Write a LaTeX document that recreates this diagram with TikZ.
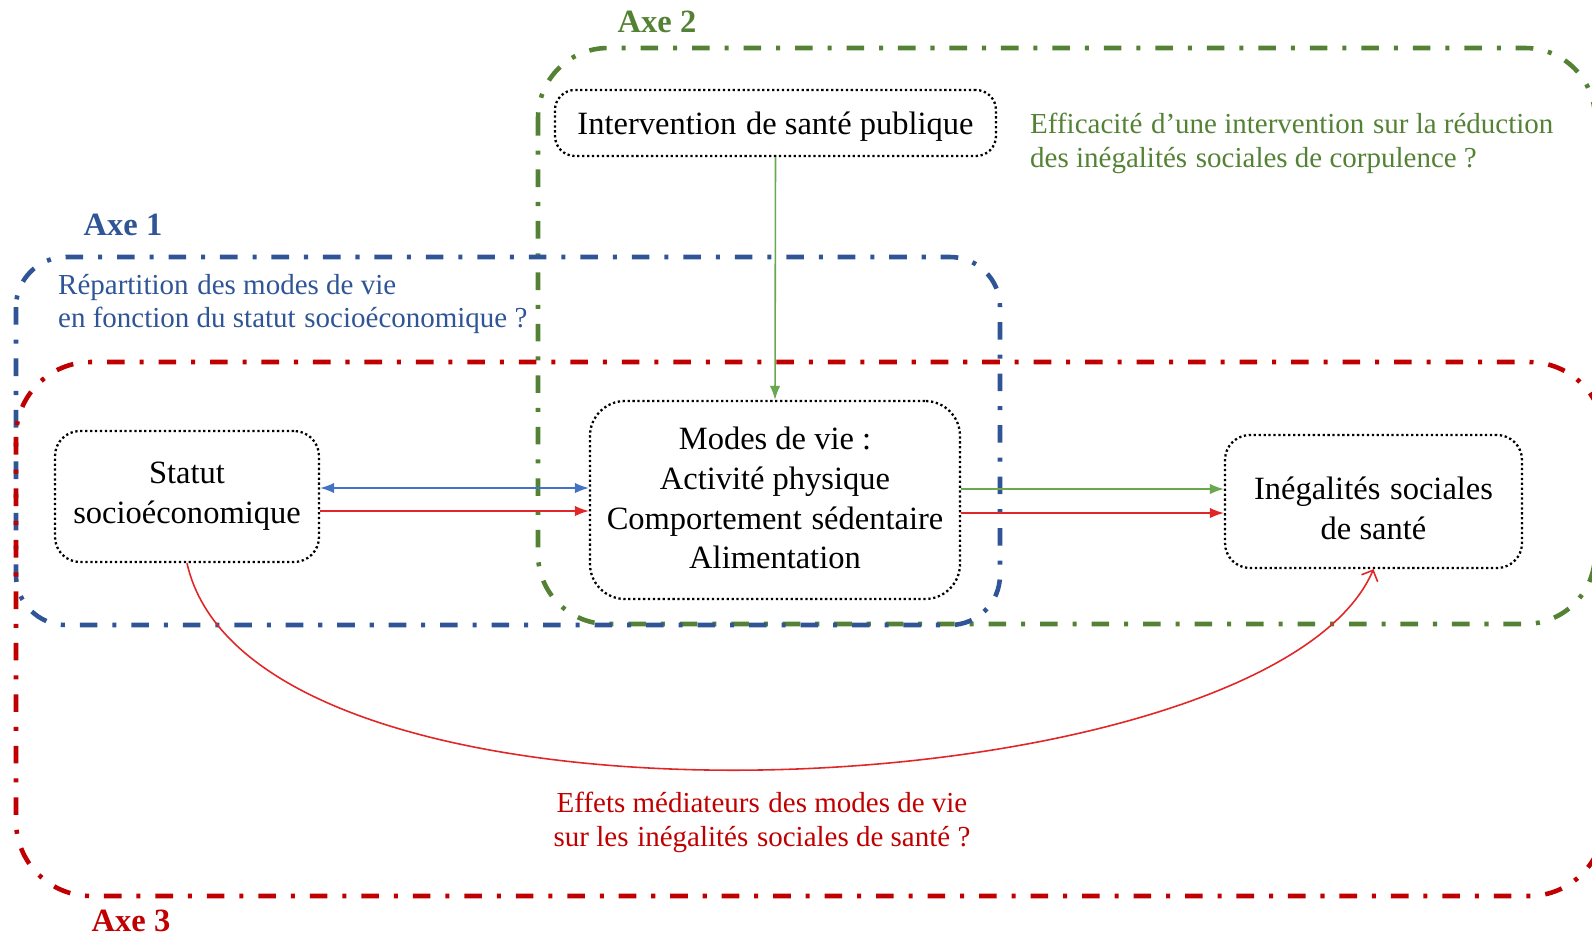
\documentclass[tikz,border=0pt]{standalone}
\usepackage{fontspec}
\setmainfont{Liberation Serif}
\usetikzlibrary{arrows.meta}
\definecolor{axblue}{HTML}{2F5597}
\definecolor{axgreen}{HTML}{548235}
\definecolor{axred}{HTML}{C00000}
\definecolor{arblue}{HTML}{4472C4}
\definecolor{argreen}{HTML}{6AA84F}
\definecolor{arred}{HTML}{E02626}
\newcommand\dsp{\hspace{0.3em}}
\tikzset{
  axisframe/.style={line width=2.6pt, dash pattern=on 10pt off 8.5pt on 2.3pt off 8.5pt},
  ibox/.style={draw=black, line width=1.3pt, dash pattern=on 1.3pt off 1.5pt, inner sep=0pt},
  boxtext/.style={align=center, font=\fontsize{18.5}{22.7}\selectfont, inner sep=0pt},
  axlabel/.style={font=\fontsize{18.5}{21}\selectfont\bfseries},
  qtext/.style={font=\fontsize{16.5}{19.3}\selectfont},
  thinarrow/.style={line width=0.9pt},
  tip/.tip={Latex[length=8pt,width=6pt]}
}
\begin{document}
\begin{tikzpicture}[x=0.02cm,y=-0.02cm]
\useasboundingbox (0,0) rectangle (1592,938);
% frames
\draw[axisframe, axgreen, rounded corners=1.4cm] (538,48) rectangle (1595,624);
\draw[axisframe, axblue, rounded corners=1.0cm] (16,257) rectangle (1000,625);
\draw[axisframe, axred, rounded corners=1.5cm] (16,362) rectangle (1604,896);
% labels
\node[axlabel, text=axgreen] (ax2) at (657,22) {Axe 2};
\node[axlabel, text=axblue] (ax1) at (123,225) {Axe 1};
\node[axlabel, text=axred] (ax3) at (131,921) {Axe 3};
\node[qtext, text=axblue, align=left, anchor=west] (q1) at (52,304) {Répartition\dsp des modes de vie\\en fonction du statut\dsp socioéconomique ?};
\node[qtext, text=axgreen, align=left, anchor=west] (q2) at (1024,143) {Efficacité\dsp d’une intervention\dsp sur la réduction\\des inégalités\dsp sociales de corpulence ?};
\node[qtext, text=axred, align=center] (q3) at (762,822) {Effets médiateurs\dsp des modes de vie\\sur les\dsp inégalités\dsp sociales de santé ?};
% boxes
\node[ibox, rounded corners=0.4cm, minimum width={441*0.02cm}, minimum height={66*0.02cm}] (interv) at (775.5,123) {};
\node[boxtext] (intervtext) at ([yshift=-4*0.02cm]interv.center) {Intervention\dsp de santé publique};
\node[ibox, rounded corners=0.5cm, minimum width={264*0.02cm}, minimum height={131*0.02cm}] (statut) at (187,496.5) {};
\node[boxtext] (statuttext) at (statut.center) {Statut\\socioéconomique};
\node[ibox, rounded corners=0.7cm, minimum width={370*0.02cm}, minimum height={198*0.02cm}] (modes) at (775,500) {};
\node[boxtext] (modestext) at ([yshift=2*0.02cm]modes.center) {Modes de vie :\\Activité physique\\Comportement\dsp sédentaire\\Alimentation};
\node[ibox, rounded corners=0.5cm, minimum width={297*0.02cm}, minimum height={133*0.02cm}] (ineg) at (1373.5,501.5) {};
\node[boxtext] (inegtext) at ([yshift=-7*0.02cm]ineg.center) {Inégalités\dsp sociales\\de santé};
% arrows
\draw[thinarrow, arblue, tip-tip] (statut.east |- 0,488) -- (modes.west |- 0,488);
\draw[thinarrow, arred, -tip] (statut.east |- 0,511) -- (modes.west |- 0,511);
\draw[thinarrow, argreen, -tip] (modes.east |- 0,489) -- (ineg.west |- 0,489);
\draw[thinarrow, arred, -tip] (modes.east |- 0,513) -- (ineg.west |- 0,513);
\draw[thinarrow, argreen, -tip] (interv.south) -- (modes.north);
\draw[thinarrow, arred, -{Straight Barb[length=5pt,width=10pt]}] (statut.south) .. controls (254,863) and (1269,812) .. (ineg.south);
\end{tikzpicture}
\end{document}
